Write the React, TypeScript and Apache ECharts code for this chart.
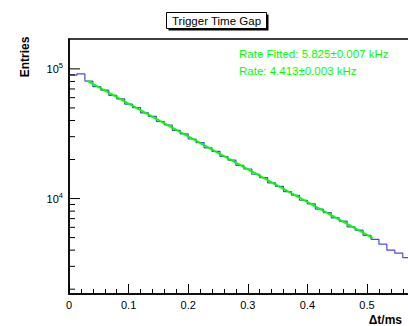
import React, { useEffect, useRef } from "react";
import * as echarts from "echarts";

// Histogram: "Trigger Time Gap"
const binLow = 0;
const binWidth = 0.6 / 45;
const histValues = [
  89500, 91500, 80500, 73000, 68500, 62500, 58800, 53500, 50300, 45800, 43000,
  39300, 36900, 33600, 31500, 28800, 27000, 24600, 23100, 21100, 19800, 18000,
  16900, 15400, 14500, 13200, 12400, 11300, 10600, 9700, 9100, 8300, 7800, 7100,
  6700, 6050, 5700, 5200, 4850, 4450, 4000, 3800, 3500, 3300,
];
// Exponential fit (straight on log scale)
const fitT = [0.03, 0.51];
const fitV = [81000, 4950];

const xTicks = { min: 0, max: 0.6, interval: 0.1 };
const yRange = { min: 1836, max: 170000 };
const yMajorTicks = [10000, 100000];
const yMinorTicks = [
  2000, 3000, 4000, 5000, 6000, 7000, 8000, 9000, 20000, 30000, 40000, 50000,
  60000, 70000, 80000, 90000,
];

const titleText = "Trigger Time Gap";
const xTitle = "\u0394t/ms";
const yTitle = "Entries";
const statLines = ["Rate Fitted: 5.825\u00b10.007 kHz", "Rate: 4.413\u00b10.003 kHz"];

const FONT = '"Liberation Sans", Arial, Helvetica, sans-serif';

export default function App() {
  const ref = useRef<HTMLDivElement>(null);
  useEffect(() => {
    if (!ref.current) return;
    const chart = echarts.init(ref.current, null, { renderer: "svg" });

    const histData: number[][] = histValues.map((v, i) => [binLow + i * binWidth, v]);
    histData.push([binLow + histValues.length * binWidth, histValues[histValues.length - 1]]);
    const fitData = fitT.map((t, i) => [t, fitV[i]]);

    const tickSeries = (vals: number[], len: number) => ({
      type: "custom",
      coordinateSystem: "cartesian2d",
      silent: true,
      z: 5,
      data: vals.map((v) => [0, v]),
      renderItem: (params: any, api: any) => {
        const p = api.coord([0, api.value(1)]);
        return {
          type: "line",
          shape: { x1: p[0], y1: p[1], x2: p[0] + len, y2: p[1] },
          style: { stroke: "#000", lineWidth: 1 },
        };
      },
    });

    chart.setOption({
      animation: false,
      backgroundColor: "#fff",
      textStyle: { fontFamily: FONT },
      grid: {
        left: 69,
        top: 39,
        bottom: 32,
        right: -18.6,
        containLabel: false,
        outerBoundsMode: "none",
        show: true,
        borderColor: "#000",
        borderWidth: 1.5,
        backgroundColor: "transparent",
      },
      xAxis: {
        type: "value",
        min: xTicks.min,
        max: xTicks.max,
        interval: xTicks.interval,
        axisLine: { show: true, lineStyle: { color: "#000", width: 1.5 } },
        axisTick: { show: true, inside: true, length: 10, lineStyle: { color: "#000" } },
        minorTick: { show: true, splitNumber: 5, length: 5, lineStyle: { color: "#000" } },
        splitLine: { show: false },
        axisLabel: {
          color: "#000",
          fontSize: 11,
          fontFamily: FONT,
          margin: 5,
          showMaxLabel: false,
          formatter: (v: number) => (v === 0 ? "0" : v.toFixed(1)),
        },
      },
      yAxis: {
        type: "log",
        logBase: 10,
        min: yRange.min,
        max: yRange.max,
        axisLine: { show: true, lineStyle: { color: "#000", width: 1.5 } },
        axisTick: { show: false },
        splitLine: { show: false },
        axisLabel: {
          showMinLabel: false,
          showMaxLabel: false,
          margin: 6,
          formatter: (v: number) => {
            const e = Math.round(Math.log10(v));
            if (Math.abs(Math.log10(v) - e) > 1e-6) return "";
            return `{b|10}{s|${e}}`;
          },
          rich: {
            b: { fontSize: 11, fontFamily: FONT, color: "#000", lineHeight: 15 },
            s: { fontSize: 7.5, fontFamily: FONT, color: "#000", verticalAlign: "top", lineHeight: 15 },
          },
        },
      },
      series: [
        {
          type: "line",
          step: "end",
          data: histData,
          showSymbol: false,
          symbol: "none",
          lineStyle: { color: "#4c4cdc", width: 1.2 },
          z: 2,
        },
        {
          type: "line",
          data: fitData,
          showSymbol: false,
          symbol: "none",
          lineStyle: { color: "#00ff00", width: 2 },
          z: 3,
        },
        tickSeries(yMajorTicks, 11),
        tickSeries(yMinorTicks, 6),
      ],
      graphic: [
        { type: "rect", shape: { x: 168.5, y: 14.5, width: 100, height: 16 }, style: { fill: "#000" } },
        {
          type: "rect",
          shape: { x: 166.5, y: 12.5, width: 100, height: 16 },
          style: { fill: "#fff", stroke: "#000", lineWidth: 1 },
        },
        {
          type: "text",
          x: 216.5,
          y: 20.5,
          style: {
            text: titleText,
            fontSize: 11.5,
            fontFamily: FONT,
            fill: "#000",
            align: "center",
            verticalAlign: "middle",
          },
        },
        {
          type: "text",
          x: 25,
          y: 57,
          rotation: Math.PI / 2,
          style: {
            text: yTitle,
            fontSize: 12,
            fontWeight: "bold",
            fontFamily: FONT,
            fill: "#000",
            align: "center",
            verticalAlign: "middle",
          },
        },
        {
          type: "text",
          x: 402,
          y: 320,
          style: {
            text: xTitle,
            fontSize: 12,
            fontWeight: "bold",
            fontFamily: FONT,
            fill: "#000",
            align: "right",
            verticalAlign: "middle",
          },
        },
        ...statLines.map((s, i) => ({
          type: "text",
          x: 239,
          y: 54 + i * 17,
          style: {
            text: s,
            fontSize: 11.5,
            fontFamily: FONT,
            fill: "#00ff00",
            align: "left",
            verticalAlign: "middle",
          },
        })),
      ],
    });
    return () => chart.dispose();
  }, []);
  return <div ref={ref} style={{ position: "absolute", left: 0, top: 0, width: 408, height: 326 }} />;
}
